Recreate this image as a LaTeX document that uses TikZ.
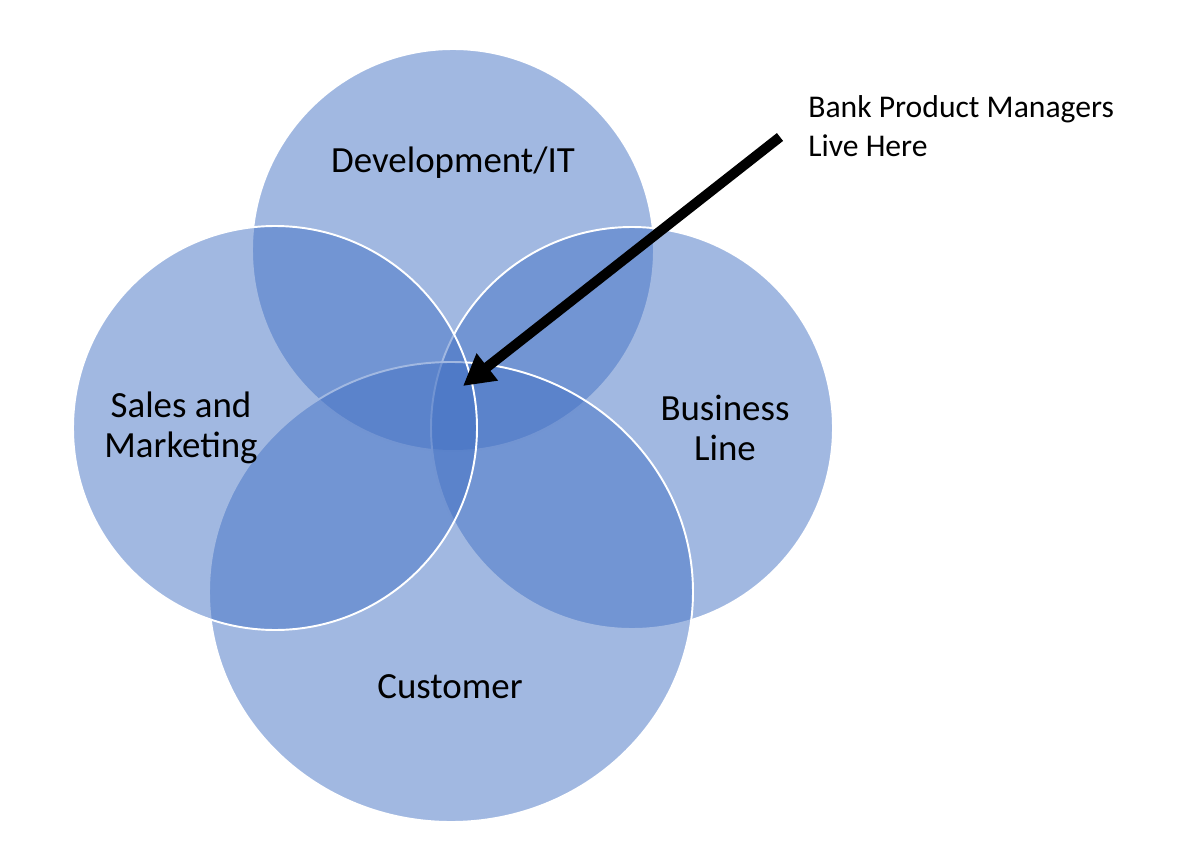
\documentclass[tikz,border=0pt]{standalone}
\usepackage{fontspec}
\setmainfont{Carlito}
\usetikzlibrary{arrows.meta}
\definecolor{accentblue}{HTML}{4472C4}
\tikzset{
  venn/.style={fill=accentblue,fill opacity=0.5,draw=white,line width=1.1pt},
  vlabel/.style={font=\fontsize{21}{22.7}\selectfont,align=center,inner sep=0pt},
  note/.style={font=\fontsize{18}{22.1}\selectfont,align=left,inner sep=0pt,anchor=west},
  pointer/.style={line width=5.7pt,-{Triangle[length=17.6pt,width=18.5pt]}}
}
\begin{document}
\begin{tikzpicture}[x=0.02cm,y=-0.02cm]
\useasboundingbox (0,0) rectangle (1200,868);
%\draw[step=100,gray,very thin] (0,0) grid (1200,868); %background grid
\filldraw[venn] (453,250) circle (201); %top
\filldraw[venn] (632,428) circle (201); %right
\filldraw[venn] (451,592) ellipse [x radius=242,y radius=230]; %bottom
\filldraw[venn] (275,428) circle (202); %left
\node[vlabel] (devit) at (453,163) {Development/IT};
\node[vlabel] (sales) at (181,428) {Sales and\\Marketing};
\node[vlabel] (business) at (725,428) {Business\\Line};
\node[vlabel] (customer) at (450,687) {Customer};
\node[note] (managers) at (808,126) {Bank Product Managers\\Live Here};
\coordinate (tail) at (780,137);
\coordinate (tip) at (463,386);
\draw[pointer] (tail) -- (tip);
\end{tikzpicture}
\end{document}
